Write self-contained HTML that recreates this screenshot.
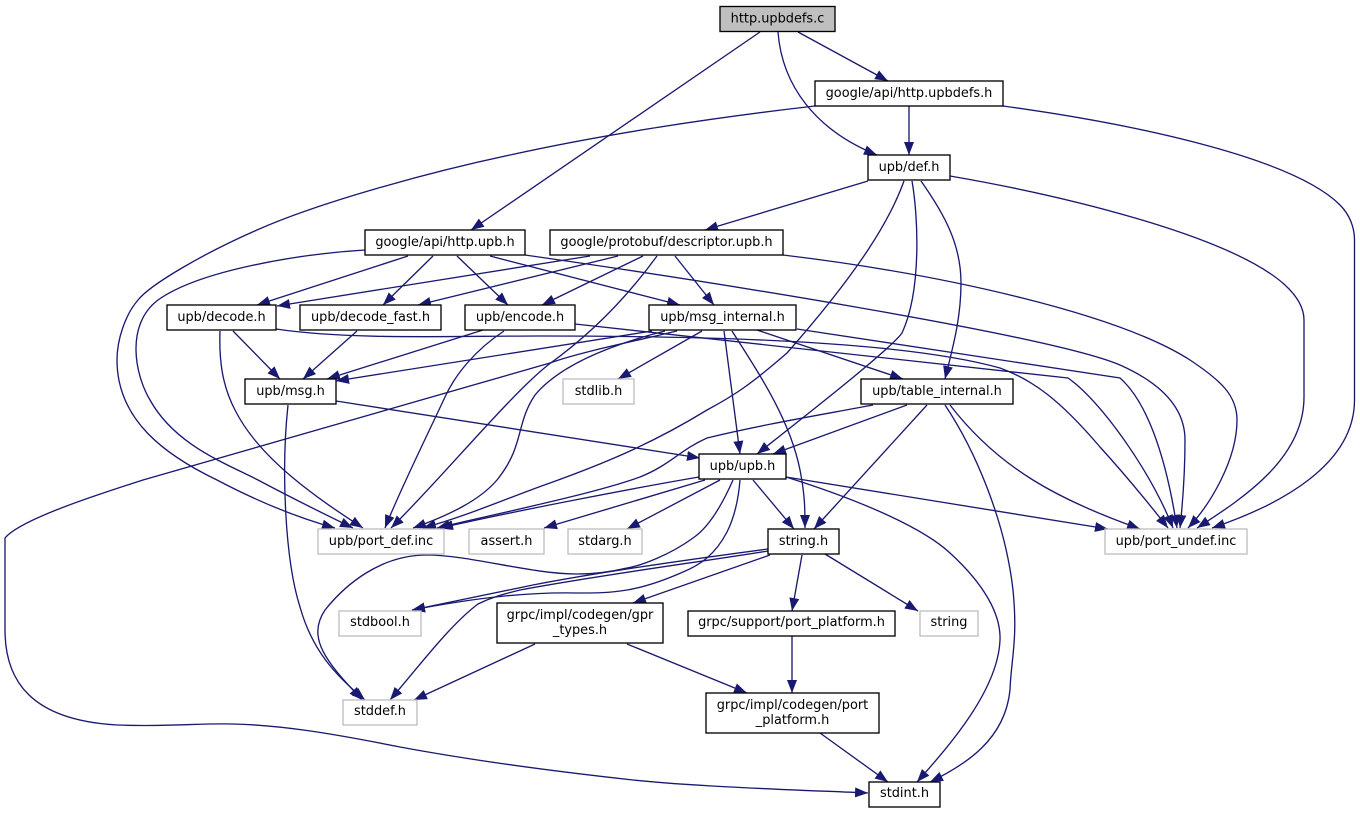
<!DOCTYPE html>
<html><head><meta charset="utf-8"><style>
html,body{margin:0;padding:0;background:#fff}
svg{display:block}
.e path{fill:none;stroke:#191970;stroke-width:1.33;marker-end:url(#a)}
.n rect{fill:#fff;stroke:#000;stroke-width:1.33}
.n rect.g{stroke:#bfbfbf}
.n rect.s{fill:#bfbfbf}
text{font-family:"DejaVu Sans",sans-serif;font-size:12.9px;text-anchor:middle;fill:#000}
</style></head><body>
<svg width="1360" height="813" viewBox="0 0 1360 813" xmlns="http://www.w3.org/2000/svg">
<defs><marker id="a" markerUnits="userSpaceOnUse" markerWidth="13" markerHeight="11" refX="13" refY="5.5" orient="auto"><path d="M0,0.5 L13,5.5 L0,10.5 Z" fill="#191970"/></marker></defs>
<g class="e">
<path d="M760,32 L471,230"/>
<path d="M778,32 C782,85 815,130 877,155"/>
<path d="M798,32 L888,81"/>
<path d="M909,106 L909,155"/>
<path d="M815,106 C710,118 600,135 510,155 C430,172 320,202 257,230 C200,255 150,285 138,300 C125,315 117,340 117,360 C117,420 165,455 217,480 C255,500 295,517 335,528"/>
<path d="M1003,106 C1120,122 1290,155 1340,205 C1350,215 1354.5,228 1354.5,240 L1354.5,400 C1354.5,465 1280,505 1212,528"/>
<path d="M868,181 L705,230"/>
<path d="M950,176 C1060,195 1230,235 1285,285 C1298,297 1304,308 1304,320 L1304,397 C1304,460 1240,500 1197,528"/>
<path d="M904,181 C890,220 860,270 787,353 C750,385 735,395 707,410 C650,445 600,465 550,483 C510,497 470,515 423,528"/>
<path d="M912,181 C918,215 922,290 902,333 C890,350 800,420 757,454"/>
<path d="M921,181 C945,215 961,245 961,283 C961,320 952,350 945,379"/>
<path d="M783,255 C950,275 1120,315 1190,360 C1220,380 1237,395 1237,420 C1237,460 1210,505 1188,528"/>
<path d="M525,255 C700,280 1050,335 1120,365 C1165,385 1185,410 1185,440 C1185,475 1183,500 1180,528"/>
<path d="M276,329 C350,340 450,336 540,336 C700,336 900,340 1000,368 C1033,380 1060,400 1100,447 C1130,480 1150,505 1168,528"/>
<path d="M797,329 L1120,378 C1145,400 1165,450 1177,528"/>
<path d="M575,324 L1068,378 C1100,400 1150,470 1173,528"/>
<path d="M652,331 L336,381"/>
<path d="M483,330 L327,379"/>
<path d="M677,331 C640,340 580,352 550,363 L143,480 C90,497 20,520 5,538 L5,630 C5,680 30,720 117,725 C170,727 200,723 233,724 C280,725 330,733 400,747 C470,760 560,772 633,780 C700,787 800,790 868,793"/>
<path d="M665,331 C610,345 560,365 535,395 C515,425 525,445 497,480 C480,500 450,515 413,528"/>
<path d="M702,331 L618,379"/>
<path d="M724,331 L740,454"/>
<path d="M732,331 C760,375 790,420 800,470 C805,495 805,510 805,528"/>
<path d="M757,330 L903,379"/>
<path d="M408,256 L257,305"/>
<path d="M433,256 L383,305"/>
<path d="M457,256 L508,305"/>
<path d="M490,256 L680,305"/>
<path d="M365,250 C300,254 200,270 158,300 C125,325 135,375 150,400 C175,445 225,463 258,480 C290,497 320,512 353,528"/>
<path d="M590,256 L277,306"/>
<path d="M618,256 L418,305"/>
<path d="M643,256 L542,305"/>
<path d="M657,256 C625,300 590,335 548,365 C510,395 440,480 391,528"/>
<path d="M675,256 L714,305"/>
<path d="M233,331 L280,379"/>
<path d="M220,331 C219,360 222,385 235,410 C260,460 320,500 363,528"/>
<path d="M357,331 L303,379"/>
<path d="M504,331 C475,350 455,375 445,397 C425,440 400,490 385,528"/>
<path d="M336,401 L700,458"/>
<path d="M288,405 C281,470 285,560 300,607 C312,650 335,675 365,700"/>
<path d="M733,480 C722,505 708,528 693,538 C670,555 640,566 627,568 C610,572 595,574 577,574 C530,574 470,555 427,555 C380,555 345,585 325,610 C305,640 330,665 362,700"/>
<path d="M740,480 C738,505 733,520 727,532 C715,555 700,565 683,572 C665,580 645,587 627,590 C610,593 595,593 577,593 C530,592 480,597 412,610"/>
<path d="M768,549 C700,558 600,572 533,585 L412,610"/>
<path d="M768,551 C700,562 600,575 520,590 C500,595 490,598 478,604 C450,625 420,665 390,700"/>
<path d="M770,555 L633,603"/>
<path d="M802,555 L792,611" />
<path d="M825,554 L918,611"/>
<path d="M535,644 L414,700"/>
<path d="M627,644 L747,693"/>
<path d="M792,636 L792,693"/>
<path d="M820,733 L888,782"/>
<path d="M786,477 C850,497 920,525 950,553 C985,585 1001,615 1000,640 C998,690 950,745 917,782"/>
<path d="M945,405 C975,450 1005,520 1013,590 C1018,640 1011,660 1010,690 C1005,740 965,765 930,782"/>
<path d="M699,477 C640,487 520,510 440,528"/>
<path d="M873,405 C820,415 760,425 707,438 C680,450 670,465 640,477 C590,495 490,515 437,528"/>
<path d="M705,480 L544,528"/>
<path d="M720,480 L627,529"/>
<path d="M753,480 L794,529"/>
<path d="M786,477 L1108,529"/>
<path d="M907,405 L773,454"/>
<path d="M927,405 L814,529"/>
<path d="M950,405 C1000,470 1060,500 1140,529"/>
</g>
<g class="n">
<rect class="s" x="720" y="6.5" width="115" height="25"/><text x="777.5" y="22.5">http.upbdefs.c</text>
<rect x="815" y="81" width="188" height="25"/><text x="909" y="97">google/api/http.upbdefs.h</text>
<rect x="868" y="155" width="82" height="25"/><text x="909" y="171">upb/def.h</text>
<rect x="365" y="230" width="160" height="25"/><text x="445" y="246">google/api/http.upb.h</text>
<rect x="550" y="230" width="233" height="25"/><text x="666.5" y="246">google/protobuf/descriptor.upb.h</text>
<rect x="167" y="305" width="109" height="25"/><text x="221.5" y="321">upb/decode.h</text>
<rect x="300" y="305" width="141" height="25"/><text x="370.5" y="321">upb/decode_fast.h</text>
<rect x="465" y="305" width="110" height="25"/><text x="520" y="321">upb/encode.h</text>
<rect x="649" y="305" width="147" height="25"/><text x="722.5" y="321">upb/msg_internal.h</text>
<rect x="245" y="379" width="91" height="25"/><text x="290.5" y="395">upb/msg.h</text>
<rect class="g" x="563" y="379" width="71" height="25"/><text x="598.5" y="395">stdlib.h</text>
<rect x="861" y="379" width="152" height="25"/><text x="937" y="395">upb/table_internal.h</text>
<rect x="699" y="454" width="87" height="25"/><text x="742.5" y="470">upb/upb.h</text>
<rect class="g" x="318" y="529" width="126" height="25"/><text x="381" y="545">upb/port_def.inc</text>
<rect class="g" x="469" y="529" width="75" height="25"/><text x="506.5" y="545">assert.h</text>
<rect class="g" x="568" y="529" width="74" height="25"/><text x="605" y="545">stdarg.h</text>
<rect x="768" y="529" width="71" height="25"/><text x="803.5" y="545">string.h</text>
<rect class="g" x="1105" y="529" width="142" height="25"/><text x="1176" y="545">upb/port_undef.inc</text>
<rect class="g" x="339" y="611" width="82" height="25"/><text x="380" y="626">stdbool.h</text>
<rect x="497" y="603" width="166" height="40"/><text x="580" y="619">grpc/impl/codegen/gpr</text><text x="580" y="634">_types.h</text>
<rect x="688" y="611" width="207" height="25"/><text x="791.5" y="626">grpc/support/port_platform.h</text>
<rect class="g" x="920" y="611" width="58" height="25"/><text x="949" y="626">string</text>
<rect class="g" x="343" y="700" width="74" height="25"/><text x="380" y="715">stddef.h</text>
<rect x="706" y="693" width="173" height="40"/><text x="792.5" y="709">grpc/impl/codegen/port</text><text x="792.5" y="724">_platform.h</text>
<rect x="869" y="782" width="71" height="25"/><text x="904.5" y="797">stdint.h</text>
</g>
</svg>
</body></html>
